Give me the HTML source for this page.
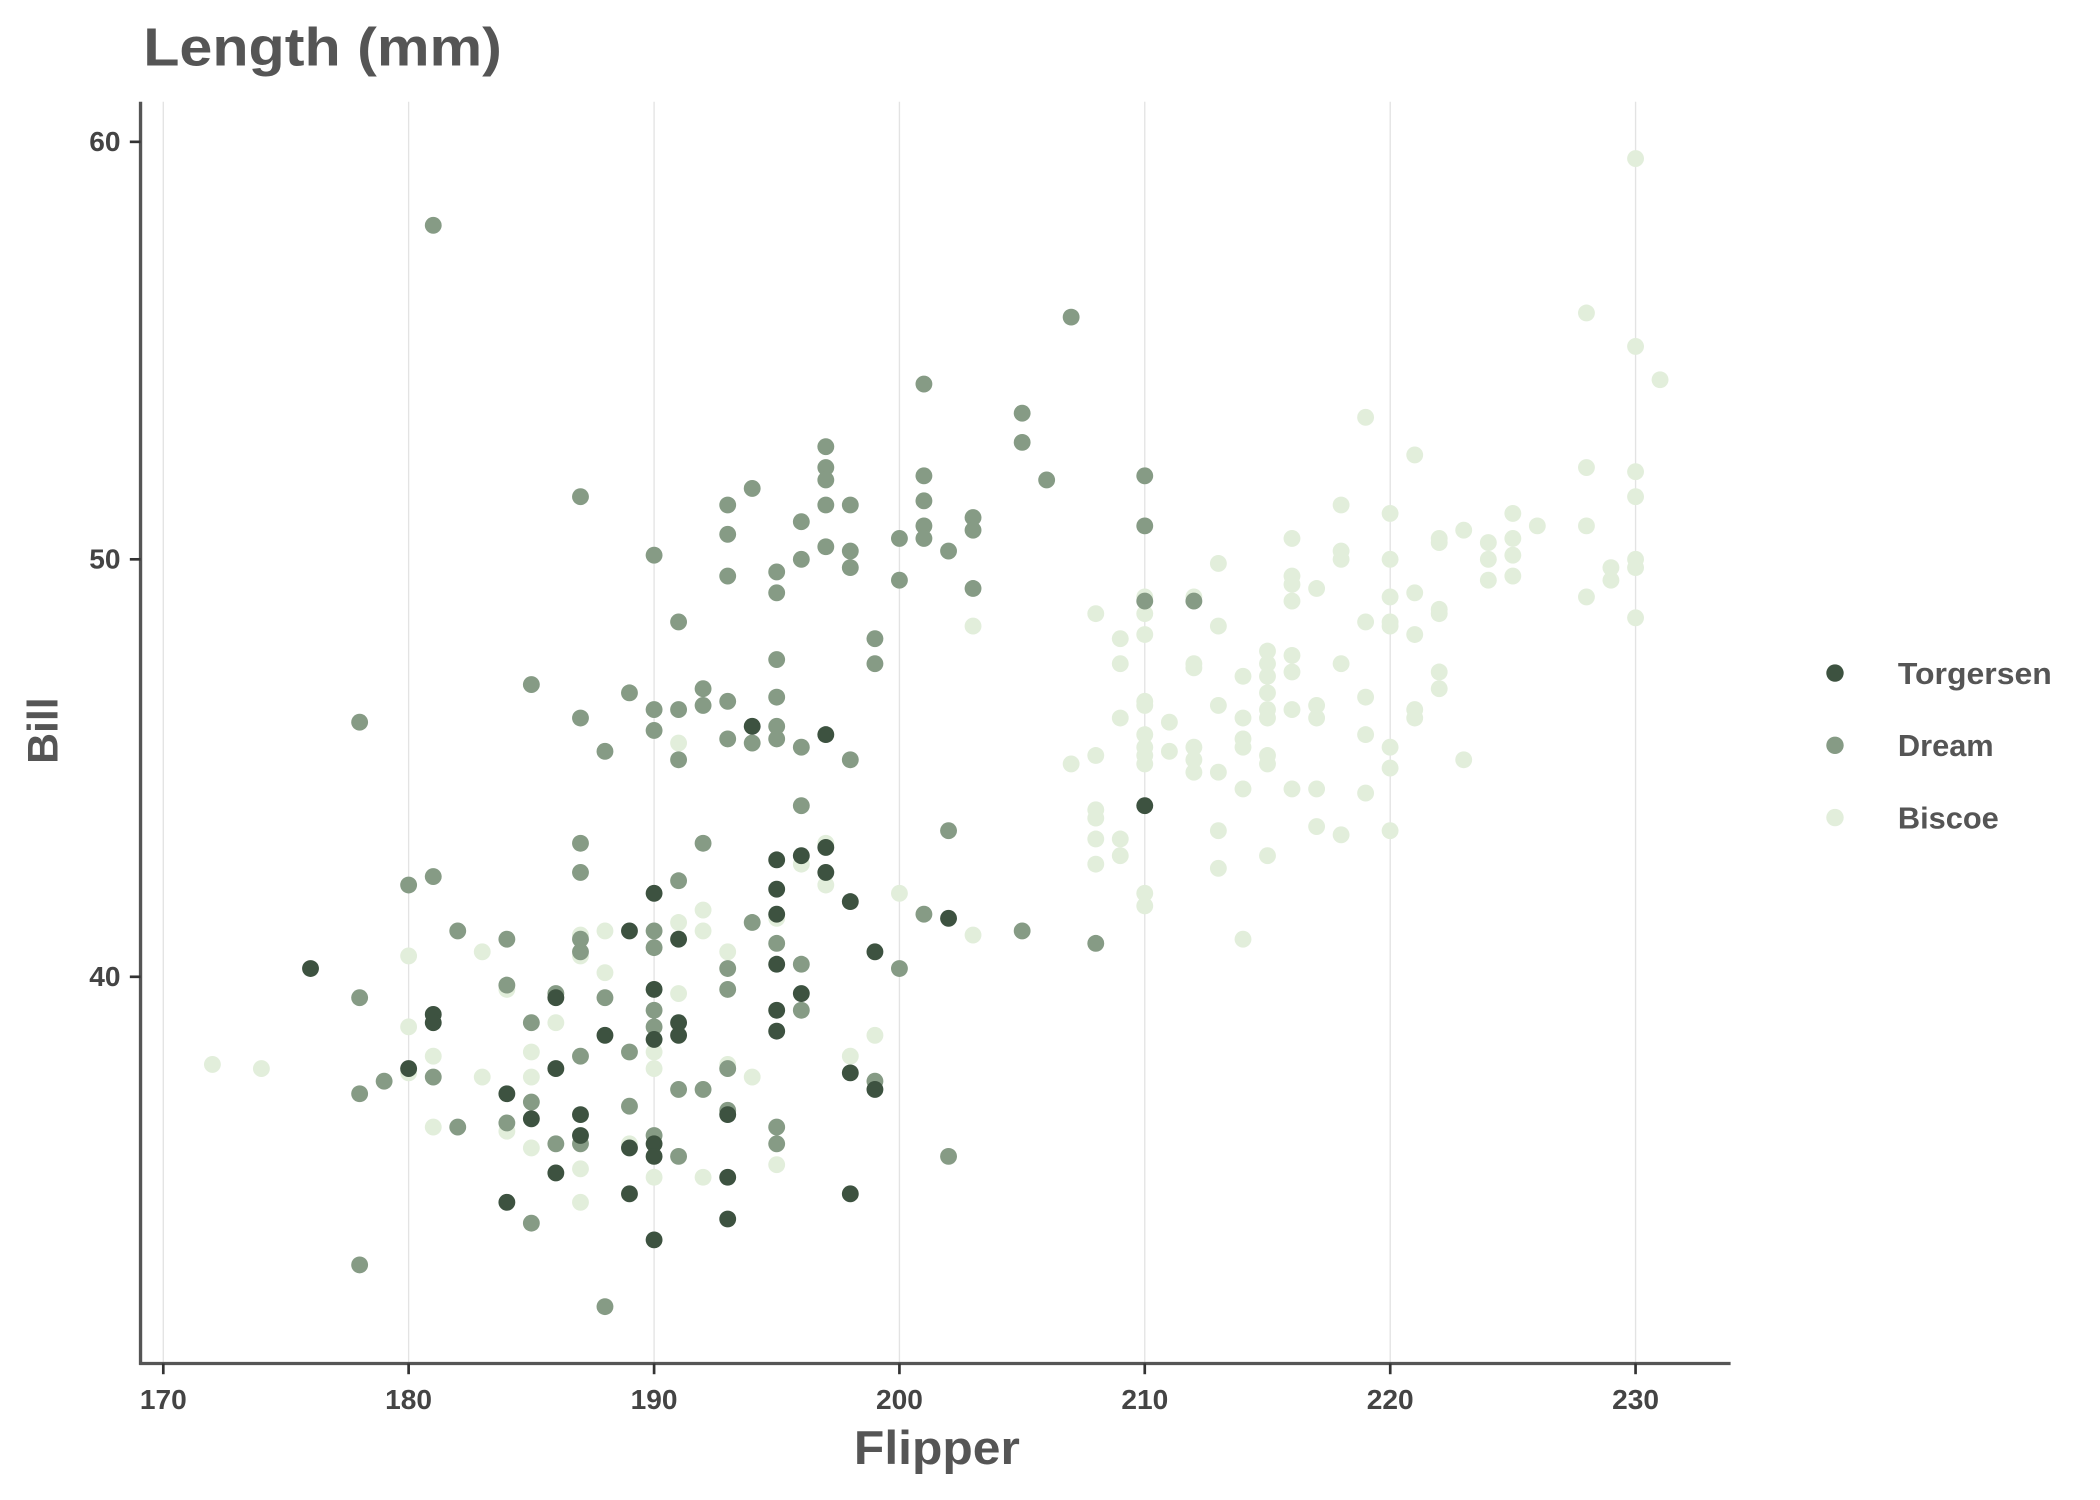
<!DOCTYPE html>
<html><head><meta charset="utf-8"><style>
html,body{margin:0;padding:0;background:#fff;}
svg{display:block;}
text{font-family:"Liberation Sans",sans-serif;font-weight:bold;}
</style></head><body>
<svg id="s" width="2100" height="1500" viewBox="0 0 1569 1121" preserveAspectRatio="none" xmlns="http://www.w3.org/2000/svg">
<rect width="1569" height="1121" fill="#fff"/>
<g stroke="#e3e3e3" stroke-width="1">
<line x1="122" y1="76" x2="122" y2="1019"/><line x1="305.3" y1="76" x2="305.3" y2="1019"/>
<line x1="488.7" y1="76" x2="488.7" y2="1019"/><line x1="672" y1="76" x2="672" y2="1019"/>
<line x1="855.3" y1="76" x2="855.3" y2="1019"/><line x1="1038.7" y1="76" x2="1038.7" y2="1019"/>
<line x1="1222" y1="76" x2="1222" y2="1019"/>
</g>
<g id="pts"></g>
<g stroke="#555" stroke-width="2.5">
<line x1="105" y1="76" x2="105" y2="1020"/><line x1="104" y1="1019" x2="1293" y2="1019"/>
</g>
<g stroke="#333" stroke-width="2">
<line x1="122" y1="1019" x2="122" y2="1027"/><line x1="305.3" y1="1019" x2="305.3" y2="1027"/>
<line x1="488.7" y1="1019" x2="488.7" y2="1027"/><line x1="672" y1="1019" x2="672" y2="1027"/>
<line x1="855.3" y1="1019" x2="855.3" y2="1027"/><line x1="1038.7" y1="1019" x2="1038.7" y2="1027"/>
<line x1="1222" y1="1019" x2="1222" y2="1027"/>
<line x1="97" y1="106" x2="105" y2="106"/><line x1="97" y1="418" x2="105" y2="418"/><line x1="97" y1="730" x2="105" y2="730"/>
</g>
<g fill="#444" font-size="21" text-anchor="middle">
<text x="122" y="1053">170</text><text x="305.3" y="1053">180</text><text x="488.7" y="1053">190</text>
<text x="672" y="1053">200</text><text x="855.3" y="1053">210</text><text x="1038.7" y="1053">220</text><text x="1222" y="1053">230</text>
</g>
<g fill="#444" font-size="21" text-anchor="end">
<text x="90" y="113">60</text><text x="90" y="425">50</text><text x="90" y="737">40</text>
</g>
<text x="107" y="49" fill="#555" font-size="40" textLength="268" lengthAdjust="spacingAndGlyphs">Length (mm)</text>
<text x="638" y="1094" fill="#555" font-size="35" textLength="124" lengthAdjust="spacingAndGlyphs">Flipper</text>
<text transform="translate(43,546) rotate(-90)" fill="#555" font-size="32" text-anchor="middle">Bill</text>
<circle cx="1371" cy="503" r="6.5" fill="#3d5240"/><circle cx="1371" cy="557" r="6.5" fill="#869b85"/><circle cx="1371" cy="611" r="6.5" fill="#e2eedb"/>
<g fill="#555" font-size="23"><text x="1418" y="511" textLength="115" lengthAdjust="spacingAndGlyphs">Torgersen</text><text x="1418" y="565">Dream</text><text x="1418" y="619">Biscoe</text></g>
</svg>
<script>
var T=[[176,40.2],[180,37.8],[181,39.1],[181,38.9],[184,37.2],[184,34.6],[185,36.6],[186,39.5],[186,37.8],[186,35.3],[187,36.7],[187,36.2],[188,38.6],[189,41.1],[189,35.9],[189,34.8],[190,42.0],[190,39.7],[190,38.5],[190,36.0],[190,35.7],[190,33.7],[191,40.9],[191,38.9],[191,38.6],[193,36.7],[193,35.2],[193,34.2],[194,46.0],[195,42.8],[195,42.1],[195,41.5],[195,40.3],[195,39.2],[195,38.7],[196,42.9],[196,39.6],[197,45.8],[197,43.1],[197,42.5],[198,41.8],[198,37.7],[198,34.8],[199,40.6],[199,37.3],[202,41.4],[210,44.1]];
var D=[[178,46.1],[178,39.5],[178,37.2],[178,33.1],[179,37.5],[180,42.2],[181,58.0],[181,42.4],[181,37.6],[182,41.1],[182,36.4],[184,40.9],[184,39.8],[184,36.5],[185,47.0],[185,38.9],[185,37.0],[185,34.1],[186,39.6],[186,36.0],[187,51.5],[187,46.2],[187,43.2],[187,42.5],[187,40.9],[187,40.6],[187,38.1],[187,36.0],[188,45.4],[188,39.5],[188,32.1],[189,46.8],[189,38.2],[189,36.9],[190,50.1],[190,46.4],[190,45.9],[190,41.1],[190,40.7],[190,39.2],[190,38.8],[190,36.2],[191,48.5],[191,46.4],[191,45.2],[191,42.3],[191,37.3],[191,35.7],[192,46.9],[192,46.5],[192,43.2],[192,37.3],[193,51.3],[193,50.6],[193,49.6],[193,46.6],[193,45.7],[193,40.2],[193,39.7],[193,37.8],[193,36.8],[194,51.7],[194,45.6],[194,41.3],[195,49.7],[195,49.2],[195,47.6],[195,46.7],[195,46.0],[195,45.7],[195,40.8],[195,36.4],[195,36.0],[196,50.9],[196,50.0],[196,45.5],[196,44.1],[196,40.3],[196,39.2],[197,52.7],[197,52.2],[197,51.9],[197,51.3],[197,50.3],[198,51.3],[198,50.2],[198,49.8],[198,45.2],[199,48.1],[199,47.5],[199,37.5],[200,50.5],[200,49.5],[200,40.2],[201,54.2],[201,52.0],[201,51.4],[201,50.8],[201,50.5],[201,41.5],[202,50.2],[202,43.5],[202,35.7],[203,51.0],[203,50.7],[203,49.3],[205,53.5],[205,52.8],[205,41.1],[206,51.9],[207,55.8],[208,40.8],[210,52.0],[210,50.8],[210,49.0],[212,49.0]];
var B=[[172,37.9],[174,37.8],[180,40.5],[180,38.8],[180,37.7],[181,38.1],[181,36.4],[183,40.6],[183,37.6],[184,39.7],[184,36.3],[185,38.2],[185,37.6],[185,35.9],[186,38.9],[187,41.0],[187,40.5],[187,35.4],[187,34.6],[188,41.1],[188,40.1],[189,36.0],[190,38.2],[190,37.8],[190,35.2],[191,45.6],[191,41.3],[191,39.6],[192,41.6],[192,41.1],[192,35.2],[193,40.6],[193,37.9],[194,37.6],[195,41.4],[195,35.5],[196,42.7],[197,43.2],[197,42.2],[198,38.1],[199,38.6],[200,42.0],[203,48.4],[203,41.0],[207,45.1],[208,48.7],[208,45.3],[208,44.0],[208,43.8],[208,43.3],[208,42.7],[209,48.1],[209,47.5],[209,46.2],[209,43.3],[209,42.9],[210,49.1],[210,48.7],[210,48.2],[210,46.6],[210,46.5],[210,45.8],[210,45.5],[210,45.3],[210,45.1],[210,42.0],[210,41.7],[211,46.1],[211,45.4],[212,49.1],[212,47.5],[212,47.4],[212,45.5],[212,45.2],[212,44.9],[213,49.9],[213,48.4],[213,46.5],[213,44.9],[213,43.5],[213,42.6],[214,47.2],[214,46.2],[214,45.7],[214,45.5],[214,44.5],[214,40.9],[215,47.8],[215,47.5],[215,47.2],[215,46.8],[215,46.4],[215,46.2],[215,45.3],[215,45.1],[215,42.9],[216,50.5],[216,49.6],[216,49.4],[216,49.0],[216,47.7],[216,47.3],[216,46.4],[216,44.5],[217,49.3],[217,46.5],[217,46.2],[217,44.5],[217,43.6],[218,51.3],[218,50.2],[218,50.0],[218,47.5],[218,43.4],[219,53.4],[219,48.5],[219,46.7],[219,45.8],[219,44.4],[220,51.1],[220,50.0],[220,49.1],[220,48.5],[220,48.4],[220,45.5],[220,45.0],[220,43.5],[221,52.5],[221,49.2],[221,48.2],[221,46.4],[221,46.2],[222,50.5],[222,50.4],[222,48.8],[222,48.7],[222,47.3],[222,46.9],[223,50.7],[223,45.2],[224,50.4],[224,50.0],[224,49.5],[225,51.1],[225,50.5],[225,50.1],[225,49.6],[226,50.8],[228,55.9],[228,52.2],[228,50.8],[228,49.1],[229,49.8],[229,49.5],[230,59.6],[230,55.1],[230,52.1],[230,51.5],[230,50.0],[230,49.8],[230,48.6],[231,54.3]];
var g=document.getElementById('pts'),h='';
function add(a,c){a.forEach(function(p){var x=122+(p[0]-170)*18.333,y=106+(60-p[1])*31.2;h+='<circle cx="'+x.toFixed(1)+'" cy="'+y.toFixed(1)+'" r="6.3" fill="'+c+'"/>';});}
add(B,'#e2eedb');add(D,'#869b85');add(T,'#3d5240');
g.innerHTML=h;
</script>
</body></html>
